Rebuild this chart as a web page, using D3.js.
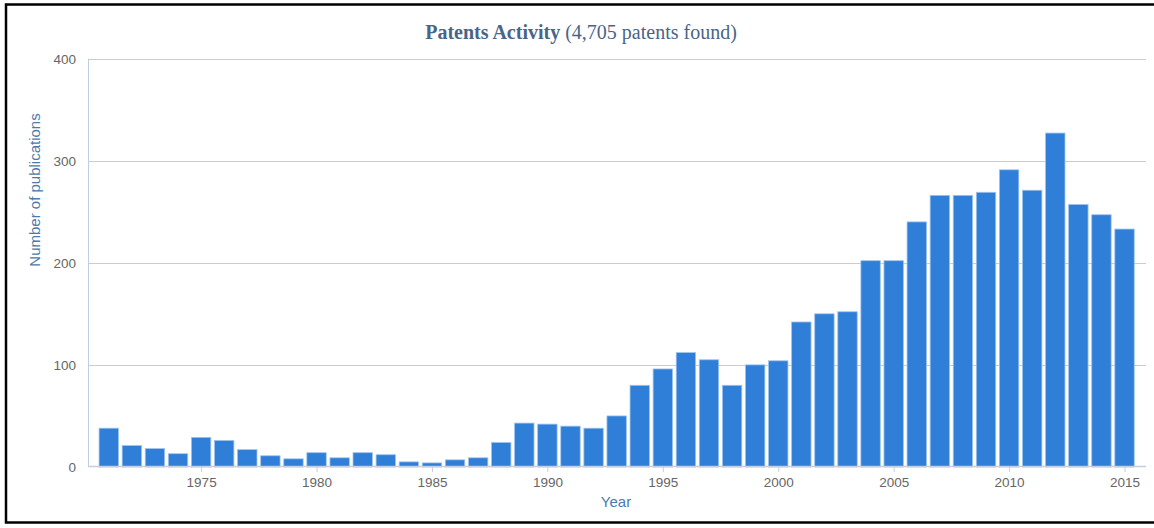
<!DOCTYPE html>
<html><head><meta charset="utf-8">
<script src="https://cdn.jsdelivr.net/npm/d3@7"></script>
<style>body{margin:0;background:#fff}svg{display:block}</style>
</head><body>
<svg id="c" width="1154" height="528"></svg>
<script>
const years = d3.range(1971, 2016);
const counts = [38,21,18,13,29,26,17,11,8,14,9,14,12,5,4,7,9,
  24,43,42,40,38,50,80,96,112,105,80,100,104,
  142,150,152,202,202,240,266,266,269,291,271,327,257,247,233];
const xTicks = [1975,1980,1985,1990,1995,2000,2005,2010,2015];
const yTicks = [0,100,200,300,400];
const titleBold = "Patents Activity";
const titleRest = " (4,705 patents found)";
const xTitle = "Year", yTitle = "Number of publications";

const svg = d3.select("#c");
const L = 88, R = 1146, T = 58.5, B = 467;
const x = d3.scaleLinear().domain([1970.1, 2015.93]).range([L, R]);
const y = d3.scaleLinear().domain([0, 400]).range([B, T]);
const bw = 19.4;

// border
svg.append("rect").attr("x",6).attr("y",4.5).attr("width",1160).attr("height",518)
  .attr("fill","none").attr("stroke","#000").attr("stroke-width",2.5);

// title
const t = svg.append("text").attr("x",581).attr("y",39).attr("text-anchor","middle")
  .attr("font-family","Liberation Serif, Times New Roman, serif").attr("font-size",20).attr("fill","#4a6488");
t.append("tspan").attr("font-weight","bold").text(titleBold);
t.append("tspan").text(titleRest);

// grid
svg.append("g").selectAll("line").data(yTicks.filter(d=>d>0)).join("line")
  .attr("x1",L).attr("x2",R).attr("y1",d=>Math.round(y(d))+0.5).attr("y2",d=>Math.round(y(d))+0.5)
  .attr("stroke","#cccccc").attr("stroke-width",1);

// y labels
svg.append("g").selectAll("text").data(yTicks).join("text")
  .attr("x",76).attr("y",d=>y(d)+5).attr("text-anchor","end")
  .attr("font-family","Liberation Sans, Arial, sans-serif").attr("font-size",13.5).attr("fill","#666")
  .text(d=>d);

// bars
svg.append("g").selectAll("rect").data(years).join("rect")
  .attr("x",(d)=>x(d)-bw/2).attr("width",bw)
  .attr("y",(d,i)=>y(counts[i])).attr("height",(d,i)=>B-y(counts[i]))
  .attr("fill","#2f7ed8").attr("stroke","#9cc3ef").attr("stroke-width",0.8);

// axes lines
svg.append("line").attr("x1",L+0.5).attr("x2",L+0.5).attr("y1",T).attr("y2",B)
  .attr("stroke","#c0d0e0").attr("stroke-width",1);
svg.append("line").attr("x1",L).attr("x2",R).attr("y1",B-0.5).attr("y2",B-0.5)
  .attr("stroke","#c0d0e0").attr("stroke-width",1.5);

// x ticks
const xg = svg.append("g").attr("transform",`translate(0,${B})`);
const xa = d3.axisBottom(x).tickValues(xTicks).tickFormat(d3.format("d")).tickSize(5).tickPadding(5);
xg.call(xa);
xg.select(".domain").remove();
xg.selectAll(".tick line").attr("stroke","#c0d0e0");
xg.selectAll(".tick text").attr("font-family","Liberation Sans, Arial, sans-serif").attr("font-size",13.5).attr("fill","#666");

// axis titles
svg.append("text").attr("x",616).attr("y",507).attr("text-anchor","middle")
  .attr("font-family","Liberation Sans, Arial, sans-serif").attr("font-size",15).attr("fill","#4d7aaa").text(xTitle);
svg.append("text").attr("transform","translate(40,190) rotate(-90)").attr("text-anchor","middle")
  .attr("font-family","Liberation Sans, Arial, sans-serif").attr("font-size",15).attr("fill","#4d7aaa").text(yTitle);
</script>
</body></html>
